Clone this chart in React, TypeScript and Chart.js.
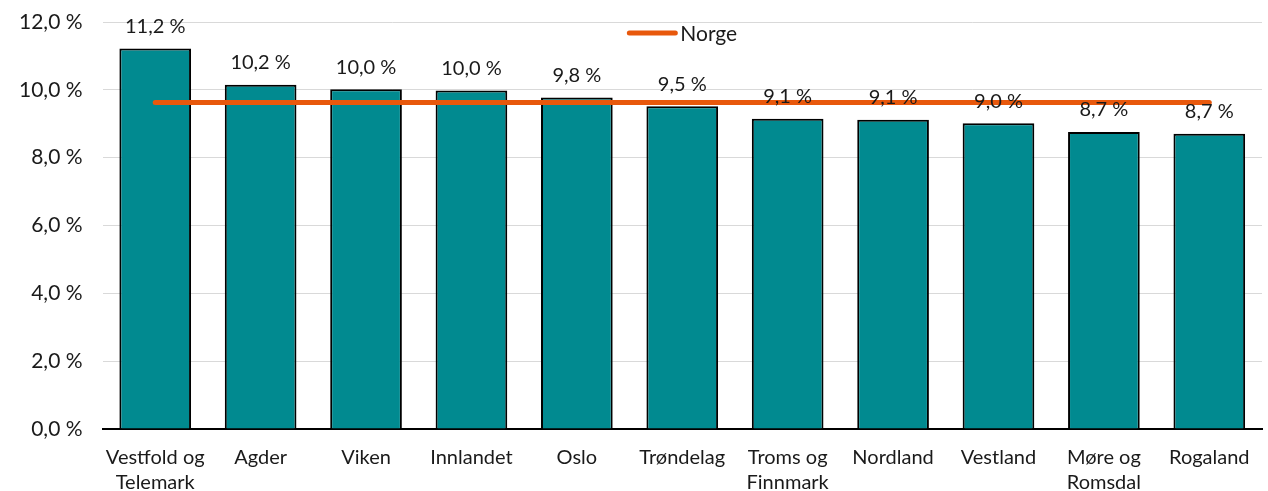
import React, { useEffect, useRef } from "react";
import { Chart, registerables } from "chart.js";

Chart.register(...registerables);

const categories: (string | string[])[] = [
  ["Vestfold og", "Telemark"],
  "Agder",
  "Viken",
  "Innlandet",
  "Oslo",
  "Trøndelag",
  ["Troms og", "Finnmark"],
  "Nordland",
  "Vestland",
  ["Møre og", "Romsdal"],
  "Rogaland",
];
const regionValues = [11.22, 10.15, 10.02, 9.98, 9.78, 9.52, 9.15, 9.12, 9.02, 8.76, 8.71];
const regionLabels = ["11,2 %", "10,2 %", "10,0 %", "10,0 %", "9,8 %", "9,5 %", "9,1 %", "9,1 %", "9,0 %", "8,7 %", "8,7 %"];
const norgeValue = 9.63;
const norgeValues = categories.map(() => norgeValue);
const yTicks = [0, 2, 4, 6, 8, 10, 12];
const legendText = "Norge";

const FONT = "Lato, 'Open Sans', sans-serif";
const TEAL = "#018A90";
const ORANGE = "#E8580C";
const TEXT = "#1a1a1a";

const labelPlugin = {
  id: "barLabels",
  afterDatasetsDraw(chart: any) {
    const meta = chart.getDatasetMeta(1);
    const ctx = chart.ctx;
    ctx.save();
    ctx.font = `20px ${FONT}`;
    ctx.fillStyle = TEXT;
    ctx.textAlign = "center";
    ctx.textBaseline = "bottom";
    meta.data.forEach((el: any, i: number) => {
      ctx.fillText(regionLabels[i], el.x, el.y - 12);
    });
    // legend
    const area = chart.chartArea;
    ctx.font = `21px ${FONT}`;
    const tw = ctx.measureText(legendText).width;
    const lineW = 48;
    const gap = 5;
    const total = lineW + gap + tw;
    const cx = (area.left + area.right) / 2;
    const x0 = cx - total / 2;
    const y = area.top + 11;
    ctx.strokeStyle = ORANGE;
    ctx.lineWidth = 5;
    ctx.lineCap = "round";
    ctx.beginPath();
    ctx.moveTo(x0 + 2, y);
    ctx.lineTo(x0 + lineW, y);
    ctx.stroke();
    ctx.textAlign = "left";
    ctx.textBaseline = "middle";
    ctx.fillText(legendText, x0 + lineW + gap, y + 1);
    ctx.restore();
  },
};

export default function App() {
  const ref = useRef<HTMLCanvasElement>(null);
  useEffect(() => {
    if (!ref.current) return;
    const chart = new Chart(ref.current, {
      type: "bar",
      data: {
        labels: categories,
        datasets: [
          {
            type: "line",
            label: "Norge",
            data: norgeValues,
            borderColor: ORANGE,
            backgroundColor: ORANGE,
            borderWidth: 5,
            pointRadius: 0,
            borderCapStyle: "round",
            order: 0,
          } as any,
          {
            type: "bar",
            label: "Andel",
            data: regionValues,
            backgroundColor: TEAL,
            borderColor: "#000000",
            borderWidth: 2,
            barPercentage: 0.68,
            categoryPercentage: 1,
            order: 1,
          } as any,
        ],
      },
      options: {
        animation: false,
        responsive: true,
        maintainAspectRatio: false,
        layout: { padding: { left: -1, right: 6, top: 0, bottom: -20 } },
        plugins: {
          legend: { display: false },
          tooltip: { enabled: false },
        },
        scales: {
          x: {
            grid: { display: false, drawTicks: false },
            border: { display: true, color: "#000000", width: 2 },
            ticks: {
              color: TEXT,
              font: { family: FONT, size: 20, lineHeight: 1.25 },
              padding: 16,
              maxRotation: 0,
              autoSkip: false,
            },
          },
          y: {
            min: 0,
            max: 12,
            afterBuildTicks: (axis: any) => {
              axis.ticks = yTicks.map((v) => ({ value: v }));
            },
            grid: { color: "#d9d9d9", lineWidth: 1, drawTicks: false },
            border: { display: false },
            ticks: {
              color: TEXT,
              font: { family: FONT, size: 21, lineHeight: 0.2 },
              padding: 20,
              callback: (v: any) => `${Number(v).toFixed(1).replace(".", ",")} %`,
            },
          },
        },
      },
      plugins: [labelPlugin],
    });
    return () => chart.destroy();
  }, []);
  return (
    <div style={{ position: "fixed", left: 0, top: 0, width: 1268, height: 491, background: "#fff" }}>
      <canvas ref={ref} />
    </div>
  );
}
